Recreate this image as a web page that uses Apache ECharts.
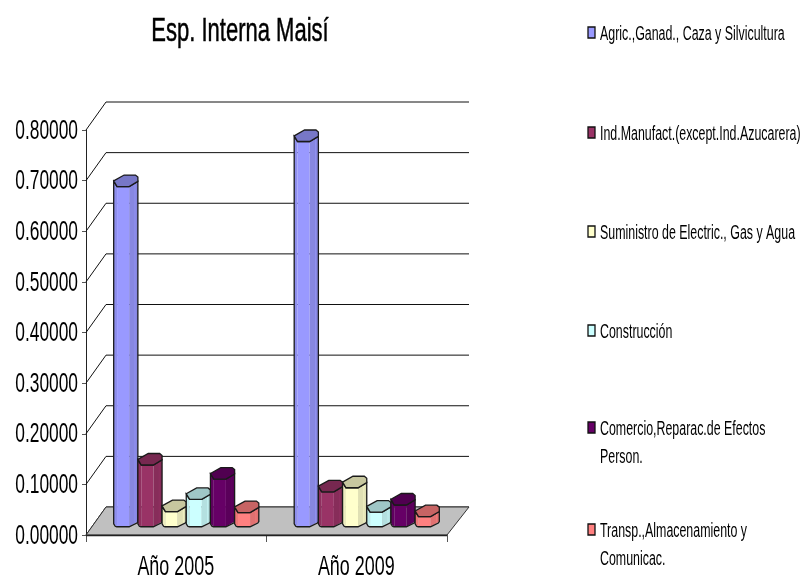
<!DOCTYPE html>
<html><head><meta charset="utf-8">
<style>html,body{margin:0;padding:0;background:#fff}#c{width:806px;height:579px}</style>
<script src="https://cdn.jsdelivr.net/npm/echarts@6/dist/echarts.min.js"></script>
</head><body><div id="c"></div>
<script>
const categories = ['Año 2005', 'Año 2009'];
const seriesNames = ['Agric.,Ganad., Caza y Silvicultura', 'Ind.Manufact.(except.Ind.Azucarera)', 'Suministro de Electric., Gas y Agua', 'Construcción', 'Comercio,Reparac.de Efectos\nPerson.', 'Transp.,Almacenamiento y\nComunicac.'];
const agric = [0.672, 0.761];
const manuf = [0.122, 0.069];
const electric = [0.030, 0.077];
const construccion = [0.054, 0.029];
const comercio = [0.094, 0.043];
const transporte = [0.028, 0.020];
const colors = ['#9999FF', '#993366', '#FFFFCC', '#CCFFFF', '#660066', '#FF8080'];
const gridValues = [0, 0.1, 0.2, 0.3, 0.4, 0.5, 0.6, 0.7, 0.8];
const allValues = [agric, manuf, electric, construccion, comercio, transporte];

const FONT = '"Liberation Sans",Arial,sans-serif';
const DX = 20, DY = -28;
function shade(hex, f) {
  const n = parseInt(hex.slice(1), 16);
  const c = [(n >> 16) & 255, (n >> 8) & 255, n & 255].map(v => Math.round(v * f));
  return 'rgb(' + c.join(',') + ')';
}
function poly(points, fill, stroke, lw) {
  return { type: 'polygon', shape: { points }, style: { fill, stroke: stroke || 'none', lineWidth: lw || 0 } };
}
function barRender(sIdx) {
  return function (params, api) {
    const i = api.value(0), v = api.value(1);
    const size = api.size([1, 0])[0];
    const w = size * 0.134;
    const base = api.coord([i, 0]), top = api.coord([i, v]);
    const x = base[0] + (sIdx - 3) * w + DX / 2;
    const h = 11.5;
    const yb = base[1] + DY / 2 + h / 2;      // front bottom
    const yt = top[1] + DY / 2 + h / 2;       // front edge of top
    const c = colors[sIdx];
    const o = '#1a1a1a';
    const fx1 = x + 0.14 * w, fx2 = x + 0.64 * w, r = x + w;
    const sideY = h * 0.45;
    const kids = [
      poly([[x, yt - sideY], [fx1, yt], [fx1, yb], [x + 1, yb - 2], [x, yb - 4]], shade(c, 0.93)),
      poly([[fx1, yt], [fx2, yt], [fx2, yb], [fx1, yb]], c),
      poly([[fx2, yt], [r, yt - sideY], [r, yb - sideY], [fx2, yb]], shade(c, 0.88)),
      { type: 'line', shape: { x1: x + 0.88 * w, y1: yt - sideY * 0.6, x2: x + 0.88 * w, y2: yb - sideY * 0.8 }, style: { stroke: shade(c, 1.0), opacity: 0.55, lineWidth: 1 } },
      poly([[x, yt - sideY], [x, yb - 3], [x + 1.5, yb - 0.5], [x + 3, yb], [fx2, yb], [r - 1, yb - sideY + 1.5], [r, yb - sideY], [r, yt - sideY], [fx2, yt], [fx1, yt]], 'none', o, 1.3),
      poly([[x, yt - sideY - 0.5], [x + 0.43 * w, yt - h], [x + 0.9 * w, yt - h], [r, yt - h + 2], [r, yt - sideY], [fx2, yt], [fx1, yt]], shade(c, 0.78), o, 1.3)
    ];
    return { type: 'group', children: kids };
  };
}
const bars = allValues.map((vals, s) => ({
  name: seriesNames[s], type: 'custom', z: 5 + s, clip: false,
  coordinateSystem: 'cartesian2d', encode: { x: 0, y: 1 },
  data: vals.map((v, i) => [i, v]),
  renderItem: barRender(s)
}));
const wall = {
  type: 'custom', z: 1, silent: true, clip: false, coordinateSystem: 'cartesian2d',
  encode: { x: 0, y: 1 }, data: gridValues.map(v => [0, v]),
  renderItem(params, api) {
    const cs = params.coordSys, val = api.value(1), y = api.coord([0, val])[1];
    return { type: 'group', children: [
      { type: 'polyline', shape: { points: [[cs.x, y], [cs.x + DX, y + DY], [cs.x + cs.width + DX + 2, y + DY]] }, style: { stroke: '#111', lineWidth: 1, fill: 'none' } },
      { type: 'text', x: 78, y: y + 1, scaleX: 0.62, style: { text: val.toFixed(5), font: '28px ' + FONT, fill: '#000', textAlign: 'right', textVerticalAlign: 'middle' } }
    ] };
  }
};
const xLabels = {
  type: 'custom', z: 3, silent: true, clip: false, coordinateSystem: 'cartesian2d',
  encode: { x: 0, y: 1 }, data: categories.map((c, i) => [i, 0]),
  renderItem(params, api) {
    const p = api.coord([api.value(0), 0]);
    return { type: 'text', x: p[0] - 0.5, y: p[1] + 32, scaleX: 0.64, style: { text: categories[api.value(0)], font: '28px ' + FONT, fill: '#000', textAlign: 'center', textVerticalAlign: 'middle' } };
  }
};
const floor = {
  type: 'custom', z: 2, silent: true, clip: false, coordinateSystem: 'cartesian2d',
  encode: { x: 0, y: 1 }, data: [[0, 0]],
  renderItem(params, api) {
    const cs = params.coordSys, y = api.coord([0, 0])[1], l = cs.x, r = cs.x + cs.width;
    return { type: 'group', children: [
      poly([[l, y], [l + DX, y + DY], [r + DX + 2, y + DY], [r, y]], '#C0C0C0', '#333', 1),
      { type: 'line', shape: { x1: l, y1: y + 0.5, x2: r, y2: y + 0.5 }, style: { stroke: '#222', lineWidth: 1.5 } }
    ] };
  }
};
const legendY = [33, 133, 232, 331, 428, 530];
const legendGraphics = [];
seriesNames.forEach((n, i) => {
  legendGraphics.push({ type: 'rect', x: 588, y: legendY[i] - 6, shape: { width: 7, height: 11 }, style: { fill: colors[i], stroke: '#111', lineWidth: 1.3 } });
  legendGraphics.push({ type: 'text', x: 600, y: legendY[i] - 13, scaleX: 0.62, style: { text: n, font: '20px ' + FONT, fill: '#000', lineHeight: 28, textAlign: 'left', textVerticalAlign: 'top' } });
});
legendGraphics.push({ type: 'text', x: 240, y: 32, scaleX: 0.667, style: { text: 'Esp. Interna Maisí', font: '33px ' + FONT, fill: '#000', stroke: '#000', lineWidth: 0.5, textAlign: 'center', textVerticalAlign: 'middle' } });
const chart = echarts.init(document.getElementById('c'), null, { renderer: 'canvas' });
chart.setOption({
  animation: false,
  backgroundColor: '#fff',
  grid: { left: 86, right: 359, top: 130, bottom: 44, outerBoundsMode: 'none' },
  xAxis: { type: 'category', data: categories, boundaryGap: true,
    axisLine: { lineStyle: { color: '#222' } },
    axisTick: { show: true, length: 7, lineStyle: { color: '#555' } },
    axisLabel: { show: false } },
  yAxis: { type: 'value', min: 0, max: 0.8, interval: 0.1,
    axisLine: { show: true, lineStyle: { color: '#222' } },
    axisTick: { show: true, length: 4, lineStyle: { color: '#555' } },
    splitLine: { show: false },
    axisLabel: { show: false } },
  graphic: legendGraphics,
  series: [wall, floor, xLabels].concat(bars)
});
</script></body></html>
